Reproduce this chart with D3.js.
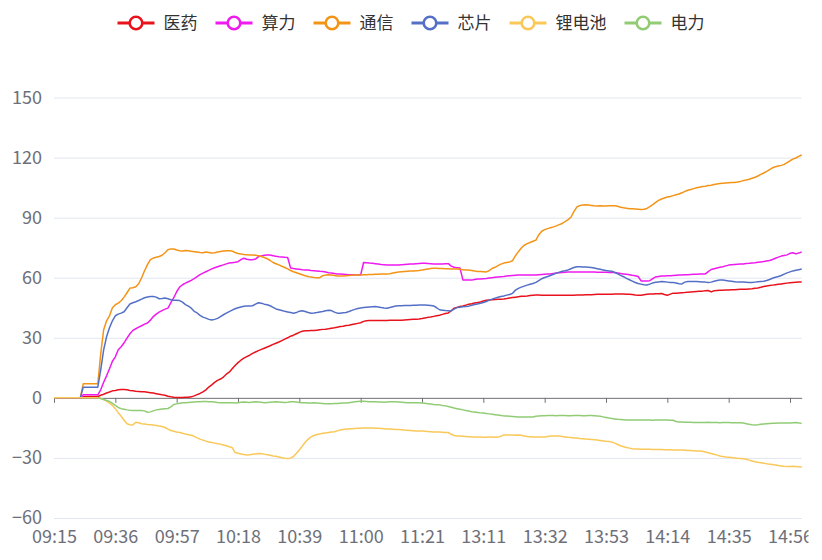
<!DOCTYPE html>
<html>
<head>
<meta charset="utf-8">
<script src="https://cdn.jsdelivr.net/npm/d3@7"></script>
<style>
    body { margin: 0; background: #fff; }
    text { font-family: "Noto Sans CJK SC", "Noto Sans", sans-serif; }
</style>
</head>
<body>
<div id="chart"></div>
<script>
// Series names / colours (legend order = draw order)
const seriesNames = ['医药', '算力', '通信', '芯片', '锂电池', '电力'];
const seriesColors = ['#e8121c', '#ee1aee', '#f39416', '#5470c6', '#fac858', '#91cc75'];

// Labels shown on the category axis
const tickLabels = ['09:15', '09:36', '09:57', '10:18', '10:39', '11:00', '11:21',
    '13:11', '13:32', '13:53', '14:14', '14:35', '14:56'];
const yTicks = [-60, -30, 0, 30, 60, 90, 120, 150];

// Trading sessions that make up the category axis
const sessions = [['09:15', '11:30'], ['13:00', '15:00']];

// 医药
const yiyao = [
    0, 0, 0, 0, 0, 0, 0, 0, 0, 0,
    0.5, 0.7, 0.7, 0.7, 0.7, 0.7, 1.3, 1.8, 2.4, 2.9,
    3.5, 3.7, 4, 4.2, 4.2, 4, 3.7, 3.5, 3.3, 3.2,
    3.1, 3, 2.8, 2.6, 2.4, 2.1, 1.8, 1.5, 1.3, 0.8,
    0.5, 0.3, 0.2, 0.2, 0.2, 0.3, 0.3, 0.5, 1, 1.6,
    2.2, 3, 4, 5.4, 6.5, 7.7, 8.7, 9.4, 10.4, 11.8,
    12.8, 14.5, 16.2, 17.6, 18.8, 19.8, 20.6, 21.3, 22.2, 22.9,
    23.6, 24.2, 24.8, 25.4, 26, 26.7, 27.3, 27.9, 28.6, 29.3,
    30, 30.8, 31.3, 32, 32.7, 33.3, 33.5, 33.5, 33.6, 33.6,
    33.8, 34, 34.2, 34.3, 34.5, 34.8, 35, 35.3, 35.6, 35.8,
    36.1, 36.3, 36.6, 36.9, 37.2, 37.5, 38.2, 38.5, 38.6, 38.6,
    38.6, 38.6, 38.6, 38.6, 38.6, 38.7, 38.7, 38.7, 38.8, 38.8,
    38.9, 39, 39.1, 39.2, 39.3, 39.4, 39.6, 39.9, 40.2, 40.4,
    40.7, 41, 41.3, 41.7, 42.1, 42.4, 43.5, 44.8, 45.2, 45.6,
    45.9, 46.3, 46.7, 47, 47.4, 47.6, 47.9, 48.4, 48.7, 48.9,
    49, 49.1, 49.2, 49.3, 49.4, 49.6, 49.9, 50.1, 50.3, 50.5,
    50.7, 50.8, 50.9, 51.1, 51.3, 51.4, 51.4, 51.3, 51.3, 51.2,
    51.2, 51.2, 51.3, 51.3, 51.2, 51.2, 51.2, 51.3, 51.3, 51.4,
    51.4, 51.4, 51.5, 51.5, 51.5, 51.6, 51.7, 51.7, 51.8, 51.8,
    51.8, 51.8, 51.9, 51.9, 51.9, 51.9, 51.8, 51.7, 51.6, 51.4,
    51.3, 51.3, 51.5, 51.7, 51.9, 51.9, 52, 52, 52.1, 51.6,
    51.2, 51.8, 52.3, 52.3, 52.4, 52.5, 52.6, 52.8, 52.9, 53,
    53.1, 53.2, 53.3, 53.5, 53.6, 52.9, 53.5, 53.6, 53.7, 53.8,
    53.9, 53.9, 54, 54, 54.1, 54.2, 54.2, 54.3, 54.4, 54.5,
    54.7, 54.9, 55.2, 55.6, 55.9, 56.1, 56.3, 56.5, 56.7, 56.9,
    57.1, 57.3, 57.5, 57.6, 57.7, 57.8, 57.9
];

// 算力
const suanli = [
    0, 0, 0, 0, 0, 0, 0, 0, 0, 0,
    1.5, 1.5, 1.5, 1.5, 1.5, 1.5, 4, 7.8, 11, 14.5,
    18.3, 20.5, 24, 25.5, 27.5, 29.8, 32, 33.7, 34.5, 35.3,
    36, 36.8, 37.4, 38.8, 40.6, 41.8, 42.8, 43.6, 44.3, 44.8,
    47.5, 50, 53, 55.3, 56.5, 57.3, 58, 58.7, 59.5, 60.5,
    61.5, 62.3, 63, 63.7, 64.4, 65, 65.5, 66, 66.4, 66.9,
    67.3, 67.5, 67.7, 68, 69, 69.7, 69.2, 69, 69, 69.3,
    70.5, 70.9, 71.2, 71.4, 71.3, 71, 70.7, 70.5, 70.4, 70.2,
    70.1, 64.9, 64.6, 64.4, 64.2, 64, 63.9, 63.8, 63.6, 63.5,
    63.4, 63.2, 63.1, 62.9, 62.5, 62.3, 62.1, 61.9, 61.8, 61.7,
    61.6, 61.5, 61.5, 61.4, 61.4, 61.4, 67.6, 67.5, 67.3, 67.2,
    67, 66.8, 66.6, 66.5, 66.4, 66.4, 66.4, 66.4, 66.4, 66.5,
    66.6, 66.7, 66.8, 66.8, 67, 67.1, 67.2, 67.2, 67.1, 67,
    66.9, 66.8, 66.8, 66.9, 67, 67, 65.8, 65.2, 65, 64.8,
    58.9, 58.9, 58.8, 58.8, 59.1, 59.3, 59.4, 59.5, 59.6, 59.8,
    60, 60.2, 60.4, 60.5, 60.6, 60.8, 61, 61.1, 61.2, 61.3,
    61.4, 61.4, 61.4, 61.4, 61.4, 61.4, 61.5, 61.6, 61.7, 61.8,
    61.9, 62.1, 62.3, 62.5, 62.6, 62.7, 62.8, 62.8, 62.9, 62.9,
    62.9, 62.9, 62.8, 62.8, 62.8, 62.8, 62.7, 62.7, 62.7, 62.7,
    62.6, 62.6, 62.6, 62.4, 62.1, 61.9, 61.7, 61.5, 61.2, 61,
    60.6, 58.4, 58.4, 58.4, 58.5, 59.5, 60.4, 60.6, 60.8, 60.9,
    61, 61, 61.1, 61.2, 61.3, 61.4, 61.5, 61.5, 61.6, 61.7,
    61.7, 61.8, 61.8, 61.9, 63, 64.1, 64.5, 64.9, 65.2, 65.5,
    65.9, 66.3, 66.5, 66.6, 66.7, 66.8, 66.9, 67.1, 67.2, 67.4,
    67.5, 67.7, 67.9, 68.1, 68.4, 68.6, 69.1, 69.7, 70.3, 70.8,
    71.1, 71.4, 72.2, 72.5, 71.9, 72.3, 72.9
];

// 通信
const tongxin = [
    0, 0, 0, 0, 0, 0, 0, 0, 0, 0,
    7, 7, 7, 7, 7, 7, 22, 34, 38.5, 41,
    45, 46.5, 47.3, 48.5, 50.3, 52.5, 54.8, 55, 55.5, 57,
    60, 63.5, 66.5, 69, 69.8, 70.2, 70.6, 71.2, 72.5, 74,
    74.4, 74.3, 73.8, 73.5, 73.4, 73.6, 73.5, 73.2, 73, 72.8,
    72.6, 72.5, 72.8, 72.6, 72.4, 72.5, 72.8, 73.1, 73.3, 73.5,
    73.5, 73.3, 72.6, 72.1, 71.9, 71.6, 71.5, 71.4, 71.3, 71.2,
    71, 70.6, 70.1, 69.5, 68.6, 67.6, 67, 66.4, 65.7, 65.1,
    64.4, 63.6, 63, 62.5, 62, 61.5, 61, 60.6, 60.3, 60.1,
    60, 60, 61, 61.3, 61.5, 61.3, 61.1, 60.9, 60.8, 60.9,
    61, 61.1, 61.2, 61.3, 61.4, 61.4, 61.5, 61.5, 61.6, 61.6,
    61.7, 61.7, 61.8, 61.8, 61.9, 62, 62.3, 62.6, 62.8, 63,
    63.1, 63.2, 63.3, 63.4, 63.5, 63.6, 63.8, 64.1, 64.4, 64.6,
    64.7, 64.7, 64.6, 64.6, 64.5, 64.5, 64.4, 64.3, 64.3, 64.2,
    64, 63.8, 63.8, 63.6, 63.3, 63.1, 63.1, 63, 62.9, 63.5,
    64.6, 65.2, 66, 66.8, 67.3, 67.6, 67.9, 68.5, 71, 73,
    74.8, 76.2, 77, 77.6, 78.2, 78.8, 81.5, 83.2, 84, 84.5,
    85, 85.4, 85.9, 86.5, 87.1, 88, 89, 90.2, 93, 95.3,
    96, 96.3, 96.4, 96.3, 96.1, 95.9, 95.8, 95.9, 95.8, 95.8,
    95.9, 96, 95.9, 95.7, 95.2, 94.9, 94.7, 94.5, 94.4, 94.3,
    94.2, 94.1, 94.2, 94.6, 95.5, 96.5, 97.6, 98.6, 99.3, 99.8,
    100.3, 100.6, 101, 101.4, 101.8, 102.4, 103.1, 103.7, 104.1, 104.5,
    104.9, 105.2, 105.5, 105.7, 106, 106.2, 106.5, 106.8, 107, 107.2,
    107.3, 107.4, 107.5, 107.6, 107.8, 108.1, 108.5, 108.8, 109.2, 109.7,
    110.2, 110.8, 111.6, 112.3, 113.1, 114, 114.9, 115.4, 115.8, 116.1,
    116.6, 117.5, 118.4, 119.2, 119.8, 120.6, 121.3
];

// 芯片
const xinpian = [
    0, 0, 0, 0, 0, 0, 0, 0, 0, 0,
    5.3, 5.3, 5.3, 5.3, 5.3, 5.3, 14, 24, 30.5, 35,
    38.5, 41, 41.8, 42.3, 43, 45, 46.9, 47.5, 48, 48.6,
    49.3, 50, 50.4, 50.6, 50.6, 50.3, 49.5, 49.6, 49.9, 49.5,
    49, 48.8, 48.7, 48.6, 47.8, 46.6, 45.8, 44.8, 43.2, 42.4,
    41.2, 40.3, 39.8, 39.2, 38.9, 39.2, 39.7, 40.6, 41.5, 42.3,
    43.1, 43.8, 44.5, 45, 45.4, 45.7, 45.9, 45.9, 46, 46.8,
    47.5, 47.2, 46.8, 46.5, 46, 45.2, 44.4, 44, 43.6, 43.2,
    42.9, 42.6, 42.3, 42.6, 43.3, 43.5, 43.1, 42.6, 42.3, 42.4,
    42.6, 42.9, 43.1, 43.5, 43.8, 43.6, 42.8, 42.3, 42.3, 42.5,
    42.6, 43.1, 43.7, 44.2, 44.6, 44.9, 45.1, 45.3, 45.4, 45.5,
    45.6, 45.4, 45.1, 44.9, 44.8, 45.1, 45.5, 45.9, 46, 46,
    46.1, 46.1, 46.1, 46.2, 46.3, 46.4, 46.4, 46.4, 46.3, 46.1,
    45.9, 45, 44, 43.8, 43.6, 43.5, 43.4, 44.3, 45.1, 45.3,
    45.5, 45.6, 45.8, 46.2, 46.6, 46.9, 47.2, 47.6, 48.1, 48.8,
    49.3, 49.8, 50.2, 50.6, 50.9, 51.3, 51.6, 52.2, 53.8, 54.7,
    55.3, 55.8, 56.3, 56.7, 57.1, 57.7, 58.6, 59.5, 60.1, 60.6,
    61.1, 61.7, 62.3, 62.8, 63.2, 63.5, 63.9, 64.5, 65.1, 65.5,
    65.5, 65.4, 65.3, 65.2, 65.1, 64.8, 64.5, 64.2, 63.9, 63.6,
    63.4, 63.2, 62.6, 61.9, 61.2, 60.5, 59.7, 59, 58.3, 57.6,
    57.1, 56.8, 56.5, 56.4, 56.8, 57.4, 57.7, 57.9, 58.1, 58,
    57.8, 57.6, 57.6, 57.4, 57, 56.9, 57.8, 58.1, 58.1, 58.1,
    58.1, 58, 57.9, 57.8, 57.6, 57.8, 58.2, 58.6, 58.9, 58.8,
    58.6, 58.4, 58.2, 58, 57.8, 57.8, 57.8, 57.7, 57.6, 57.6,
    57.8, 58, 58.1, 58.2, 58.6, 59.1, 59.7, 60.2, 60.6, 61.1,
    61.8, 62.4, 62.9, 63.4, 63.7, 64, 64.3
];

// 锂电池
const lidianchi = [
    0, 0, 0, 0, 0, 0, 0, 0, 0, 0,
    0, 0, 0, 0, 0, 0, -0.3, -0.9, -1.6, -2.7,
    -3.8, -5.4, -7.4, -9.2, -11.2, -12.9, -13.4, -13.5, -12.2, -12.4,
    -12.9, -13.1, -13.3, -13.4, -13.5, -13.8, -14.1, -14.3, -14.8, -15.6,
    -16.3, -16.7, -17.1, -17.3, -17.7, -18.1, -18.4, -18.7, -19.2, -20,
    -20.6, -21.1, -21.6, -22, -22.3, -22.6, -22.9, -23.1, -23.5, -23.9,
    -24.4, -24.8, -27.3, -27.7, -28, -28.3, -28.5, -28.4, -28.2, -28,
    -27.8, -27.9, -28.1, -28.4, -28.7, -29, -29.2, -29.5, -29.9, -30.2,
    -30.3, -30.1, -29.3, -27.7, -26, -24.1, -22.2, -20.7, -19.5, -18.8,
    -18.3, -18, -17.7, -17.5, -17.3, -17.1, -16.9, -16.5, -16.1, -15.8,
    -15.6, -15.5, -15.4, -15.3, -15.2, -15.2, -15.1, -15.1, -15.1, -15.1,
    -15.2, -15.2, -15.3, -15.4, -15.5, -15.6, -15.7, -15.8, -15.8, -15.9,
    -16.1, -16.2, -16.3, -16.4, -16.5, -16.6, -16.6, -16.7, -16.8, -16.9,
    -17, -17.1, -17.1, -17.2, -17.3, -17.3, -18.2, -18.8, -19, -19.1,
    -19.2, -19.3, -19.4, -19.5, -19.6, -19.6, -19.6, -19.7, -19.7, -19.6,
    -19.6, -19.7, -19.6, -19.2, -18.5, -18.5, -18.6, -18.6, -18.7, -18.6,
    -18.7, -19, -19.3, -19.4, -19.5, -19.6, -19.5, -19.5, -19.5, -19.3,
    -19.1, -19.1, -19, -19, -19.3, -19.5, -19.7, -19.8, -20, -20.1,
    -20.3, -20.4, -20.6, -20.7, -20.8, -20.9, -21.1, -21.3, -21.5, -21.7,
    -21.8, -22.1, -22.6, -23.3, -23.9, -24.4, -24.8, -25.1, -25.4, -25.6,
    -25.6, -25.7, -25.7, -25.7, -25.7, -25.8, -25.8, -25.8, -25.8, -25.9,
    -25.9, -25.9, -26, -26, -26.1, -26.1, -26.2, -26.3, -26.3, -26.4,
    -26.5, -26.5, -26.7, -27, -27.4, -27.8, -28.2, -28.6, -29, -29.3,
    -29.5, -29.6, -29.8, -30, -30.2, -30.3, -30.4, -30.7, -31.1, -31.5,
    -31.9, -32.2, -32.4, -32.6, -32.9, -33.1, -33.3, -33.5, -33.8, -34,
    -34.2, -34.3, -34.3, -34.2, -34.3, -34.4, -34.5
];

// 电力 (no values before the open)
const dianli = [
    null, null, null, null, null, null, null, null, null, null,
    null, null, null, null, null, 0, -0.3, -0.8, -1.3, -1.8,
    -2.8, -3.8, -4.8, -5.4, -5.7, -6, -6.2, -6.3, -6.3, -6.3,
    -6.3, -6.5, -7.2, -7, -6.5, -6, -5.8, -5.6, -5.4, -5.3,
    -4.5, -3.3, -3, -2.7, -2.5, -2.4, -2.3, -2.2, -2.1, -2,
    -1.9, -1.8, -1.8, -1.9, -2, -2.1, -2.3, -2.4, -2.5, -2.5,
    -2.4, -2.5, -2.6, -2.4, -2.2, -2.1, -2.2, -2.3, -2.1, -2,
    -2.1, -2.2, -2.4, -2.3, -2.2, -2.1, -2, -2.1, -2.2, -2.3,
    -2.2, -2, -2, -2.1, -2.3, -2.4, -2.5, -2.6, -2.6, -2.5,
    -2.6, -2.7, -2.8, -2.9, -2.9, -2.9, -2.8, -2.8, -2.7, -2.6,
    -2.6, -2.4, -2.2, -2, -1.8, -1.7, -1.7, -1.8, -1.9, -2,
    -2, -2.1, -2.1, -2.2, -2.1, -2, -1.9, -2, -2.1, -2.2,
    -2.3, -2.4, -2.5, -2.5, -2.5, -2.5, -2.6, -2.7, -2.9, -3.1,
    -3.3, -3.4, -3.5, -3.8, -4, -4.3, -4.7, -5.1, -5.4, -5.7,
    -6, -6.3, -6.6, -6.9, -7.1, -7.3, -7.5, -7.6, -7.8, -8,
    -8.2, -8.4, -8.6, -8.8, -9, -9.1, -9.2, -9.3, -9.4, -9.5,
    -9.5, -9.6, -9.6, -9.6, -9.6, -9.2, -9, -8.9, -8.9, -8.8,
    -8.8, -8.8, -8.9, -8.8, -8.8, -8.8, -8.9, -8.9, -8.8, -8.8,
    -8.8, -8.9, -8.9, -8.8, -8.8, -8.9, -9, -9.2, -9.5, -9.8,
    -10.1, -10.3, -10.5, -10.7, -10.8, -10.9, -11, -11, -11.1, -11.1,
    -11.1, -11, -11, -11.1, -11.1, -11.2, -11.1, -11.1, -11, -11.1,
    -11.1, -11.2, -11.2, -11.8, -12.1, -12.1, -12.2, -12.2, -12.2, -12.3,
    -12.3, -12.3, -12.3, -12.3, -12.2, -12.3, -12.3, -12.3, -12.4, -12.3,
    -12.3, -12.3, -12.4, -12.4, -12.4, -12.4, -12.6, -12.9, -13.2, -13.4,
    -13.5, -13.4, -13.2, -13, -12.9, -12.8, -12.7, -12.7, -12.6, -12.6,
    -12.6, -12.5, -12.5, -12.4, -12.3, -12.5, -12.8
];

const seriesData = [yiyao, suanli, tongxin, xinpian, lidianchi, dianli];

// Build the minute-by-minute category list from the session bounds
function sessionMinutes([start, end]) {
    const toMin = s => +s.slice(0, 2) * 60 + +s.slice(3);
    const out = [];
    for (let m = toMin(start); m <= toMin(end); m++) {
        out.push(String(Math.floor(m / 60)).padStart(2, '0') + ':' + String(m % 60).padStart(2, '0'));
    }
    return out;
}
const times = sessions.flatMap(sessionMinutes);

const width = 822;
const height = 560;
const margin = { top: 97.5, right: 20.3, bottom: 42, left: 54 };
const labelColor = '#6e7079';

const svg = d3.select('#chart').append('svg')
    .attr('width', width)
    .attr('height', height);

const xScale = d3.scalePoint()
    .domain(times)
    .range([margin.left, width - margin.right]);

const yScale = d3.scaleLinear()
    .domain([-60, 150])
    .range([height - margin.bottom, margin.top]);

// Horizontal grid lines + y labels
const yAxis = svg.append('g')
    .attr('class', 'y-axis')
    .attr('transform', `translate(${margin.left},0)`)
    .call(d3.axisLeft(yScale)
        .tickValues(yTicks)
        .tickSize(-(width - margin.left - margin.right))
        .tickPadding(12)
        .tickFormat(d3.format('d')));
yAxis.select('.domain').remove();
yAxis.selectAll('.tick line')
    .attr('stroke', d => d === 0 ? 'none' : '#e0e6f1')
    .attr('stroke-width', 1);
yAxis.selectAll('.tick text')
    .attr('fill', labelColor)
    .attr('font-size', '18px');

// Zero axis line with ticks
const zeroAxis = svg.append('g')
    .attr('class', 'x-axis')
    .attr('transform', `translate(0,${yScale(0)})`)
    .call(d3.axisBottom(xScale)
        .tickValues(tickLabels)
        .tickSize(5)
        .tickSizeOuter(0)
        .tickFormat(''));
zeroAxis.select('.domain').attr('stroke', labelColor);
zeroAxis.selectAll('.tick line').attr('stroke', labelColor);

// Category labels at the bottom (clipped at the right edge)
svg.append('clipPath').attr('id', 'label-clip')
    .append('rect').attr('x', 0).attr('y', 0).attr('width', 808.5).attr('height', height);

const bottomAxis = svg.append('g')
    .attr('class', 'x-labels')
    .attr('clip-path', 'url(#label-clip)')
    .attr('transform', `translate(0,${height - margin.bottom})`)
    .call(d3.axisBottom(xScale)
        .tickValues(tickLabels)
        .tickSize(0)
        .tickPadding(12));
bottomAxis.select('.domain').remove();
bottomAxis.selectAll('.tick text')
    .attr('fill', labelColor)
    .attr('font-size', '18px');

// Lines
const line = d3.line()
    .defined(d => d !== null)
    .x((d, i) => xScale(times[i]))
    .y(d => yScale(d));

svg.append('g')
    .attr('class', 'lines')
    .selectAll('path')
    .data(seriesData)
    .join('path')
    .attr('fill', 'none')
    .attr('stroke', (d, i) => seriesColors[i])
    .attr('stroke-width', 1.5)
    .attr('stroke-linejoin', 'round')
    .attr('d', line);

// Legend, centred at the top
const legend = svg.append('g').attr('class', 'legend');
const iconW = 37;
const textGap = 9;
const itemGap = 18;
const legendY = 23;

const items = legend.selectAll('g')
    .data(seriesNames)
    .join('g');

items.append('line')
    .attr('x1', 0).attr('x2', iconW)
    .attr('y1', legendY).attr('y2', legendY)
    .attr('stroke', (d, i) => seriesColors[i])
    .attr('stroke-width', 3);

items.append('circle')
    .attr('cx', iconW / 2)
    .attr('cy', legendY)
    .attr('r', 6.3)
    .attr('fill', '#fff')
    .attr('stroke', (d, i) => seriesColors[i])
    .attr('stroke-width', 2.6);

items.append('text')
    .attr('x', iconW + textGap)
    .attr('y', legendY)
    .attr('dy', '0.35em')
    .attr('fill', '#333')
    .attr('font-size', '17px')
    .text(d => d);

let offset = 0;
const positions = [];
items.each(function () {
    const w = iconW + textGap + d3.select(this).select('text').node().getComputedTextLength();
    positions.push(offset);
    offset += w + itemGap;
});
const totalW = offset - itemGap;
const startX = (width - totalW) / 2;
items.attr('transform', (d, i) => `translate(${startX + positions[i]},0)`);
</script>
</body>
</html>
